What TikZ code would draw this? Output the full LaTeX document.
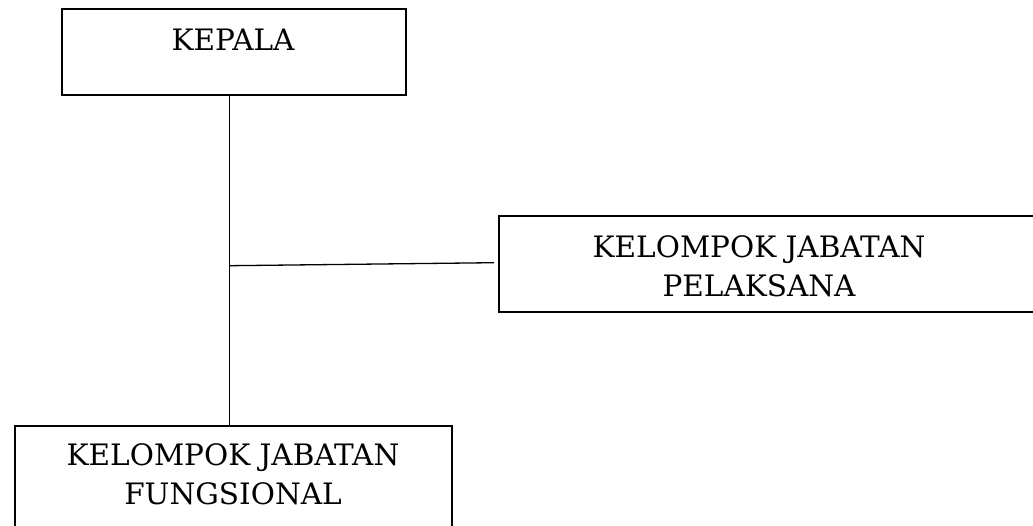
\documentclass[tikz,border=0pt]{standalone}
\usepackage{fontspec}
\setmainfont{DejaVu Serif}
\begin{document}
\begin{tikzpicture}[x=1pt,y=-1pt,
  box/.style={draw=black,line width=1.6pt,inner sep=0pt},
  lbl/.style={inner sep=0pt,align=center,font=\fontsize{29.5}{39}\selectfont},
  conn/.style={draw=black,line width=1.3pt}]
\useasboundingbox (0,0) rectangle (1033,525);
% boxes
\node[box,minimum width=344,minimum height=86] (kepala) at (234,52) {};
\node[box,minimum width=560,minimum height=96] (pel) at (779,264) {};
\node[box,minimum width=437,minimum height=130] (fung) at (233.5,491) {};
% texts
\node[lbl,anchor=base] (tkepala) at (233,50) {KEPALA};
\node[lbl] (tpel) at (759,266) {KELOMPOK JABATAN\\PELAKSANA};
\node[lbl] (tfung) at (233,474) {KELOMPOK JABATAN\\FUNGSIONAL};
% connectors
\coordinate (j) at (229.5,265.7);
\draw[conn] ([xshift=-4.5pt]kepala.south) -- ([xshift=-4pt]fung.north);
\draw[conn] (j) -- ([shift={(-4,-1.3)}]pel.west);
\end{tikzpicture}
\end{document}
